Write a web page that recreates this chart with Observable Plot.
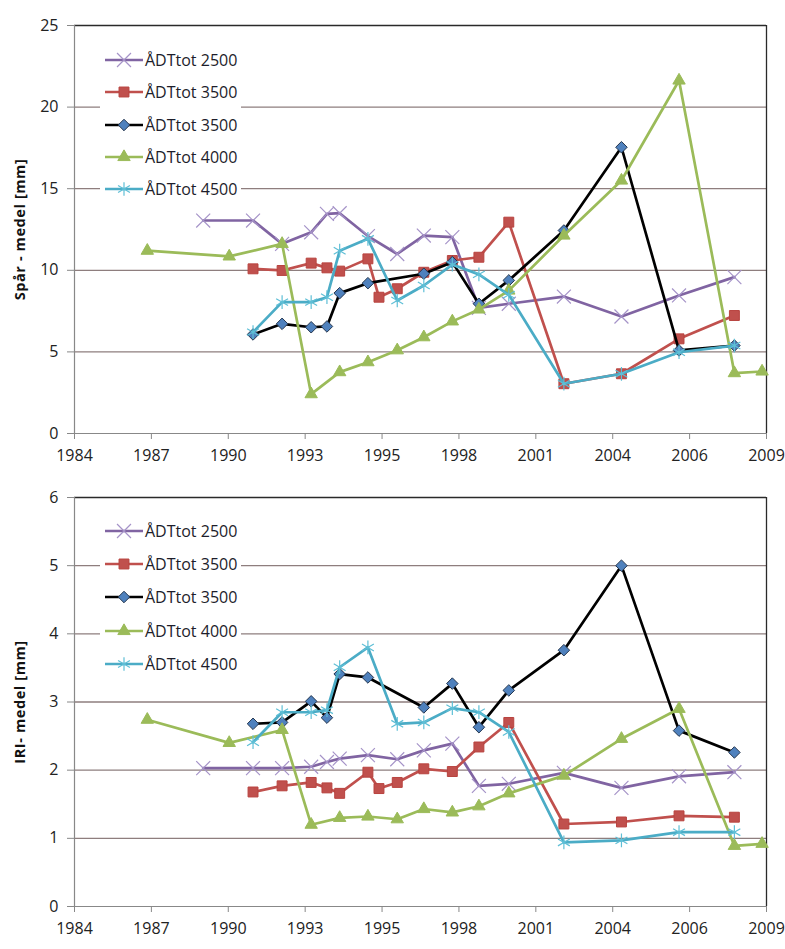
<!DOCTYPE html>
<html>
<head>
<meta charset="utf-8">
<script src="https://cdn.jsdelivr.net/npm/d3@7"></script>
<script src="https://cdn.jsdelivr.net/npm/@observablehq/plot@0.6"></script>
<style>
  body { margin: 0; background: white; font-family: "Open Sans", sans-serif; }
  #wrap { width: 785px; position: relative; }
  .panel { position: relative; width: 785px; }
  .legend { position: absolute; background: white; padding: 0 4px 0 5px; }
  .legend .row { display: flex; align-items: center; font-size: 16px; color: #1d1d2b; white-space: nowrap; }
  .legend svg { display: block; margin-right: 2px; }
  svg text { font-family: "Open Sans", sans-serif; }
</style>
</head>
<body>
<div id="wrap"></div>
<script>
// ---------- data ----------
const seriesNames = ["ÅDTtot 2500", "ÅDTtot 3500", "ÅDTtot 3500", "ÅDTtot 4000", "ÅDTtot 4500"];

const yrs2500  = [1988.65, 1990.45, 1991.50, 1992.55, 1993.12, 1993.58, 1994.60, 1995.66, 1996.62, 1997.65, 1998.61, 1999.69, 2001.68, 2003.76, 2005.84, 2007.84];
const yrs3500a = [1990.45, 1991.50, 1992.55, 1993.12, 1993.58, 1994.60, 1995.00, 1995.66, 1996.62, 1997.65, 1998.61, 1999.69, 2001.68, 2003.76, 2005.84, 2007.84];
const yrs3500b = [1990.45, 1991.50, 1992.55, 1993.12, 1993.58, 1994.60, 1996.62, 1997.65, 1998.61, 1999.69, 2001.68, 2003.76, 2005.84, 2007.84];
const yrs4000  = [1986.63, 1989.59, 1991.50, 1992.55, 1993.58, 1994.60, 1995.66, 1996.62, 1997.65, 1998.61, 1999.69, 2001.68, 2003.76, 2005.84, 2007.84, 2008.84];
const yrs4500  = [1990.45, 1991.50, 1992.55, 1993.12, 1993.58, 1994.60, 1995.66, 1996.62, 1997.65, 1998.61, 1999.69, 2001.68, 2003.76, 2005.84, 2007.84];

// Spår - medel [mm]
const spar2500  = [13.05, 13.05, 11.62, 12.33, 13.46, 13.5, 12.1, 11.0, 12.13, 12.03, 7.7, 7.95, 8.39, 7.17, 8.46, 9.58];
const spar3500a = [10.09, 9.99, 10.44, 10.15, 9.95, 10.7, 8.35, 8.87, 9.88, 10.6, 10.8, 12.95, 3.05, 3.66, 5.8, 7.23];
const spar3500b = [6.07, 6.72, 6.51, 6.56, 8.6, 9.21, 9.79, 10.5, 7.95, 9.38, 12.44, 17.54, 5.09, 5.39];
const spar4000  = [11.2, 10.85, 11.62, 2.41, 3.76, 4.37, 5.1, 5.9, 6.87, 7.6, 8.76, 12.13, 15.5, 21.63, 3.7, 3.8];
const spar4500  = [6.21, 8.05, 8.05, 8.35, 11.2, 11.93, 8.15, 9.07, 10.35, 9.75, 8.5, 3.05, 3.66, 4.98, 5.39];

// IRI- medel [mm]
const iri2500  = [2.03, 2.03, 2.03, 2.05, 2.12, 2.17, 2.22, 2.16, 2.29, 2.39, 1.77, 1.80, 1.96, 1.74, 1.91, 1.97];
const iri3500a = [1.68, 1.77, 1.82, 1.74, 1.66, 1.97, 1.73, 1.82, 2.02, 1.98, 2.34, 2.70, 1.21, 1.24, 1.33, 1.31];
const iri3500b = [2.68, 2.70, 3.01, 2.77, 3.41, 3.36, 2.92, 3.27, 2.63, 3.17, 3.76, 5.0, 2.58, 2.26];
const iri4000  = [2.74, 2.40, 2.59, 1.20, 1.30, 1.32, 1.28, 1.43, 1.38, 1.47, 1.66, 1.92, 2.46, 2.90, 0.89, 0.92];
const iri4500  = [2.41, 2.85, 2.85, 2.88, 3.51, 3.80, 2.68, 2.70, 2.91, 2.85, 2.56, 0.94, 0.97, 1.09, 1.09];

const xTickLabels = ["1984", "1987", "1990", "1993", "1995", "1998", "2001", "2004", "2006", "2009"];
const sparTicks = [0, 5, 10, 15, 20, 25];
const iriTicks = [0, 1, 2, 3, 4, 5, 6];

// ---------- styles ----------
const styles = [
  {line: "#8064a2", symbol: "times",    mark: {fill: "none", stroke: "#a593c8", strokeWidth: 1.2, r: 6.4}},
  {line: "#c0504d", symbol: "square",   mark: {fill: "#c0504d", stroke: "#b8433f", strokeWidth: 1, r: 5.6}},
  {line: "#000000", symbol: "diamond2", mark: {fill: "#4f81bd", stroke: "#26374f", strokeWidth: 1, r: 5.2}},
  {line: "#9bbb59", symbol: "triangle", mark: {fill: "#9bbb59", stroke: "#9bbb59", strokeWidth: 1, r: 4.6}},
  {line: "#4bacc6", symbol: "asterisk", mark: {fill: "none", stroke: "#5fbfd6", strokeWidth: 1.2, r: 6.5}}
];

const x0 = 1984, x1 = 2009;
const xTicks = d3.range(10).map(i => x0 + i * (x1 - x0) / 9);

function series(yrs, vals, i) {
  return yrs.map((x, k) => ({x, y: vals[k], s: i}));
}

function makePanel({values, yTicks, label, height, marginTop, marginBottom, legendTop, rowH}) {
  const yMax = yTicks[yTicks.length - 1];
  const yrsList = [yrs2500, yrs3500a, yrs3500b, yrs4000, yrs4500];
  const marks = [
    Plot.ruleY(yTicks.filter(t => t > 0 && t < yMax), {stroke: "#8e7e7e", strokeWidth: 1.3}),
    Plot.ruleY([yMax], {stroke: "#2a2a2a", strokeWidth: 1.3}),
    Plot.ruleX([x1], {stroke: "#2a2a2a", strokeWidth: 1.3}),
    Plot.ruleX([x0], {stroke: "#888", strokeWidth: 1.2}),
    Plot.ruleY([0], {stroke: "#888", strokeWidth: 1.2}),
    Plot.axisY({ticks: yTicks, tickFormat: d => String(d), tickSize: 7, tickPadding: 9, stroke: "#888", label, labelAnchor: "center", labelArrow: "none", labelOffset: 60}),
    Plot.axisX({ticks: xTicks, tickFormat: d => xTickLabels[Math.round((d - x0) * 9 / (x1 - x0))], tickSize: 6, tickPadding: 10, stroke: "#888", label: null})
  ];
  values.forEach((vals, i) => {
    const data = series(yrsList[i], vals, i);
    const st = styles[i];
    marks.push(Plot.line(data, {x: "x", y: "y", stroke: st.line, strokeWidth: 2.7}));
    marks.push(Plot.dot(data, {x: "x", y: "y", symbol: () => st.symbol, ...st.mark}));
  });
  const svg = Plot.plot({
    width: 785, height, marginTop, marginBottom, marginLeft: 74, marginRight: 19,
    x: {domain: [x0, x1]},
    y: {domain: [0, yMax]},
    style: {fontFamily: "Open Sans, sans-serif", fontSize: "16px", color: "#222", background: "white", overflow: "visible"},
    marks
  });
  const lab = svg.querySelector('g[aria-label="y-axis label"] text');
  if (lab) {
    lab.setAttribute("font-weight", "bold");
    lab.setAttribute("font-size", "14.5px");
    lab.setAttribute("letter-spacing", "0.6px");
    lab.setAttribute("fill", "#111");
  }

  const panel = document.createElement("div");
  panel.className = "panel";
  panel.appendChild(svg);

  const leg = document.createElement("div");
  leg.className = "legend";
  leg.style.left = "100px";
  leg.style.top = legendTop + "px";
  seriesNames.forEach((name, i) => {
    const st = styles[i];
    const row = document.createElement("div");
    row.className = "row";
    row.style.height = rowH + "px";
    const s = d3.create("svg").attr("width", 38).attr("height", 18);
    s.append("line").attr("x1", 0).attr("x2", 38).attr("y1", 9).attr("y2", 9).attr("stroke", st.line).attr("stroke-width", 2.7);
    const types = {times: d3.symbolTimes, square: d3.symbolSquare, diamond2: d3.symbolDiamond2, triangle: d3.symbolTriangle, asterisk: d3.symbolAsterisk};
    s.append("path").attr("transform", "translate(19,9)")
      .attr("d", d3.symbol(types[st.symbol], Math.PI * st.mark.r * st.mark.r)())
      .attr("fill", st.mark.fill).attr("stroke", st.mark.stroke).attr("stroke-width", st.mark.strokeWidth);
    row.appendChild(s.node());
    const t = document.createElement("span");
    t.textContent = name;
    row.appendChild(t);
    leg.appendChild(row);
  });
  panel.appendChild(leg);
  return panel;
}

const wrap = document.getElementById("wrap");
wrap.appendChild(makePanel({
  values: [spar2500, spar3500a, spar3500b, spar4000, spar4500],
  yTicks: sparTicks, label: "Spår - medel [mm]",
  height: 475, marginTop: 25, marginBottom: 42, legendTop: 44, rowH: 32.3
}));
wrap.appendChild(makePanel({
  values: [iri2500, iri3500a, iri3500b, iri4000, iri4500],
  yTicks: iriTicks, label: "IRI- medel [mm]",
  height: 474, marginTop: 22, marginBottom: 43, legendTop: 39, rowH: 33.4
}));
</script>
</body>
</html>
